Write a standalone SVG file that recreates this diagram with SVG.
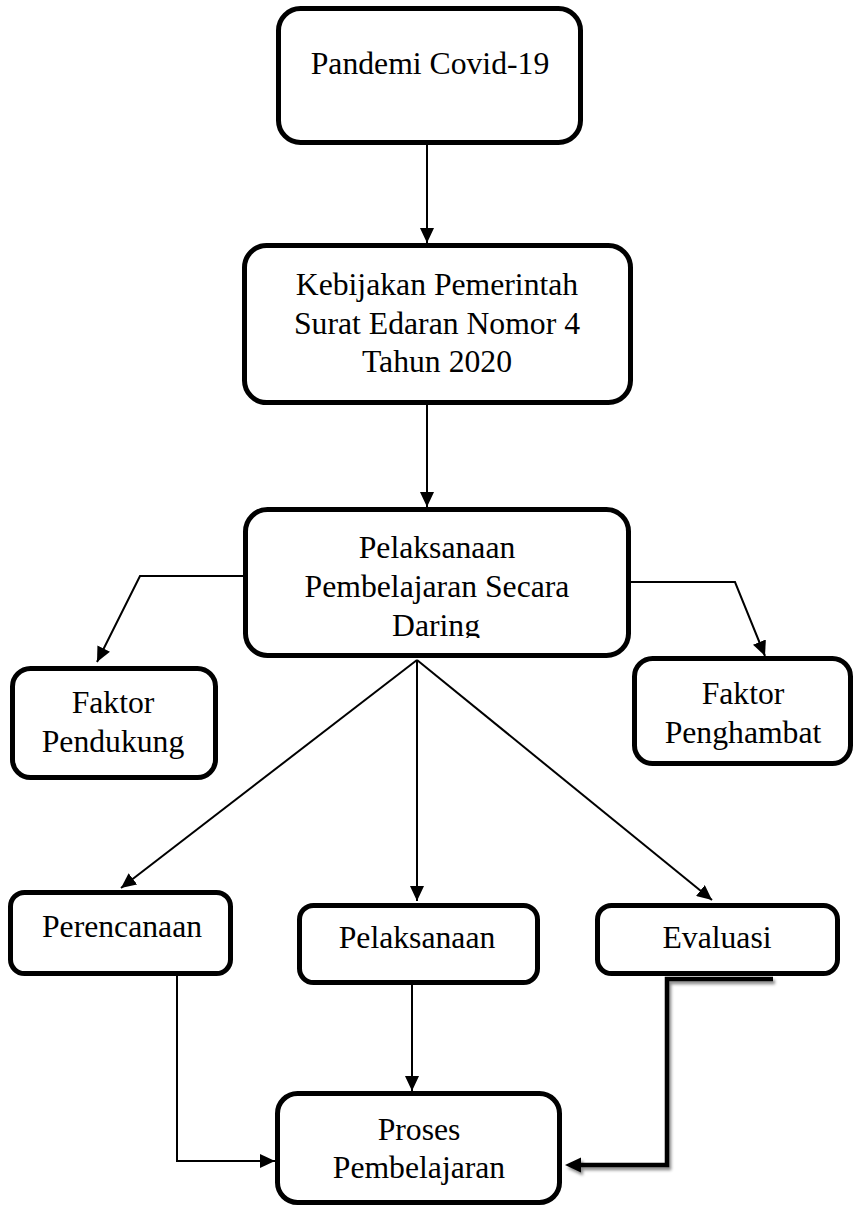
<svg xmlns="http://www.w3.org/2000/svg" width="855" height="1207" viewBox="0 0 855 1207">
<style>
.box{fill:#fff;stroke:#000;stroke-width:5}
.t{font-family:"Liberation Serif","Times New Roman",serif;font-size:31.7px;fill:#000;text-anchor:middle}
.c{fill:none;stroke:#000;stroke-width:2}
.thick{fill:none;stroke:#000;stroke-width:4.5;stroke-linejoin:miter}
</style>
<defs>
<marker id="ah" markerUnits="userSpaceOnUse" markerWidth="16" markerHeight="14" refX="15" refY="7" orient="auto">
<path d="M0,0 L15,7 L0,14 z" fill="#000"/>
</marker>
<filter id="sh" x="-20%" y="-20%" width="140%" height="140%">
<feDropShadow dx="2" dy="3" stdDeviation="1.5" flood-color="#000" flood-opacity="0.45"/>
</filter>
<clipPath id="clipDaring"><rect x="240" y="500" width="400" height="138"/></clipPath>
</defs>
<rect width="855" height="1207" fill="#fff"/>
<g id="connectors">
<path class="c" d="M427,145 L427,243" marker-end="url(#ah)"/>
<path class="c" d="M427,405 L427,507" marker-end="url(#ah)"/>
<path class="c" d="M243,576 L140,576 L97,662" marker-end="url(#ah)"/>
<path class="c" d="M631,582 L735,582 L765,656" marker-end="url(#ah)"/>
<path class="c" d="M417,660 L121,888" marker-end="url(#ah)"/>
<path class="c" d="M417,660 L417,901" marker-end="url(#ah)"/>
<path class="c" d="M417,660 L712,900" marker-end="url(#ah)"/>
<path class="c" d="M177,976 L177,1161 L275,1161" marker-end="url(#ah)"/>
<path class="c" d="M412,985 L412,1091" marker-end="url(#ah)"/>
</g>
<g id="n1"><rect class="box" x="278.5" y="8.5" width="302" height="134" rx="22"/><text class="t" x="430" y="74">Pandemi Covid-19</text></g>
<g id="n2"><rect class="box" x="244.5" y="245.5" width="386" height="157" rx="22"/><text class="t" x="437" y="295">Kebijakan Pemerintah</text><text class="t" x="437" y="334">Surat Edaran Nomor 4</text><text class="t" x="437" y="372">Tahun 2020</text></g>
<g id="n3"><rect class="box" x="245.5" y="509.5" width="383" height="146" rx="22"/><g clip-path="url(#clipDaring)"><text class="t" x="437" y="558">Pelaksanaan</text><text class="t" x="437" y="597">Pembelajaran Secara</text><text class="t" x="436" y="636">Daring</text></g></g>
<g id="n4"><rect class="box" x="12.5" y="668.5" width="203" height="109" rx="18"/><text class="t" x="113" y="713">Faktor</text><text class="t" x="113" y="752">Pendukung</text></g>
<g id="n5"><rect class="box" x="634.5" y="658.5" width="216" height="105" rx="18"/><text class="t" x="743" y="704">Faktor</text><text class="t" x="743" y="743">Penghambat</text></g>
<g id="n6"><rect class="box" x="10.5" y="892.5" width="220" height="81" rx="14"/><text class="t" x="122" y="937">Perencanaan</text></g>
<g id="n7"><rect class="box" x="299.5" y="905.5" width="238" height="77" rx="14"/><text class="t" x="417" y="948">Pelaksanaan</text></g>
<g id="n8"><rect class="box" x="597.5" y="905.5" width="240" height="68" rx="14"/><text class="t" x="717" y="948">Evaluasi</text></g>
<g id="n9"><rect class="box" x="277.5" y="1093.5" width="282" height="109" rx="20"/><text class="t" x="419" y="1140">Proses</text><text class="t" x="419" y="1178">Pembelajaran</text></g>
<g id="connector-thick" filter="url(#sh)">
<path class="thick" d="M773,979 L667,979 L667,1165 L580,1165"/>
<path d="M565,1165 L581,1157.5 L581,1172.5 z" fill="#000"/>
</g>
</svg>
